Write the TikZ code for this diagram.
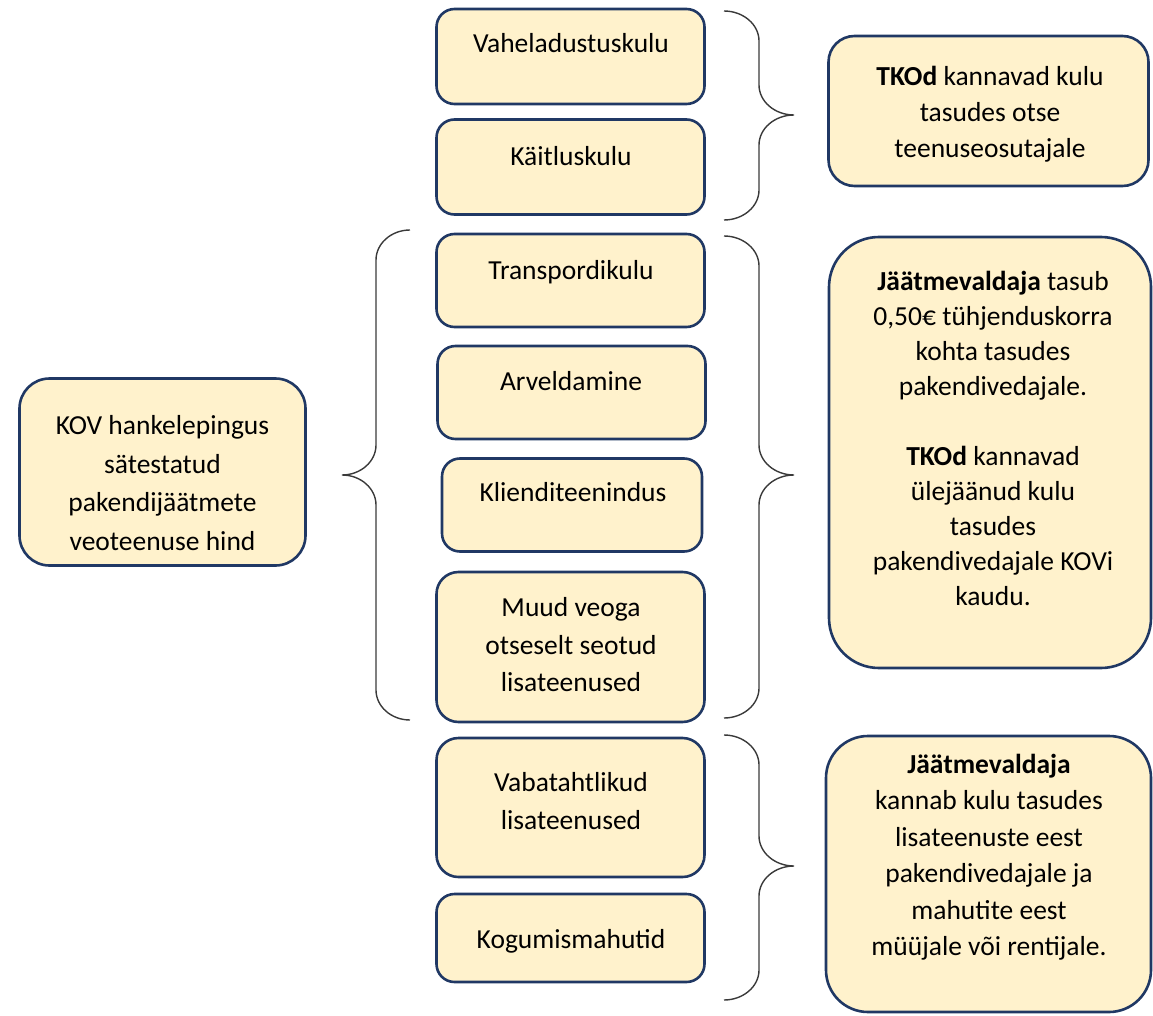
\documentclass[tikz,border=0pt]{standalone}
\usepackage{fontspec}
\setmainfont{Carlito}
\definecolor{boxfill}{HTML}{FFF2CC}
\definecolor{boxline}{HTML}{203864}
\definecolor{braceline}{HTML}{3A3A3A}
\newcommand{\mybrace}[5]{% #1 x of ends, #2 signed half width, #3 top y, #4 tip y, #5 bottom y
  \draw[brc] (#1,#3) .. controls ({#1+0.55*(#2)},#3) and ({#1+(#2)},{#3+13.5}) .. ({#1+(#2)},{#3+30})
    -- ({#1+(#2)},{#4-30}) .. controls ({#1+(#2)},{#4-13.5}) and ({#1+1.45*(#2)},#4) .. ({#1+2*(#2)},#4)
    .. controls ({#1+1.45*(#2)},#4) and ({#1+(#2)},{#4+13.5}) .. ({#1+(#2)},{#4+30})
    -- ({#1+(#2)},{#5-30}) .. controls ({#1+(#2)},{#5-13.5}) and ({#1+0.55*(#2)},#5) .. (#1,#5);}
\begin{document}
\begin{tikzpicture}[x=1pt,y=-1pt,
  box/.style={draw=boxline, line width=2.6pt, fill=boxfill, rounded corners=#1, inner sep=0pt},
  box/.default=20pt,
  txt/.style={align=center, font=\fontsize{27.5pt}{36pt}\selectfont, text=black, inner sep=0pt},
  brc/.style={draw=braceline, line width=1.4pt}]
\useasboundingbox (0,0) rectangle (1153,1016);

% middle column boxes
\node[box=18pt, minimum width=268pt, minimum height=95pt] (vah) at (570.5,56.5) {};
\node[box=18pt, minimum width=268pt, minimum height=95pt] (kai) at (570.5,167) {};
\node[box=18pt, minimum width=268pt, minimum height=93pt] (tra) at (570.5,280.5) {};
\node[box=18pt, minimum width=268pt, minimum height=93pt] (arv) at (571.5,392.5) {};
\node[box=18pt, minimum width=260pt, minimum height=93pt] (kli) at (572,505) {};
\node[box=22pt, minimum width=268pt, minimum height=150pt] (muu) at (570.5,647) {};
\node[box=22pt, minimum width=268pt, minimum height=139pt] (vab) at (570.5,807.5) {};
\node[box=18pt, minimum width=268pt, minimum height=88pt] (kog) at (570.5,938) {};

\node[txt] (vaht) at (571,43) {Vaheladustuskulu};
\node[txt] (kait) at (571,156) {Käitluskulu};
\node[txt] (trat) at (571,272) {Transpordikulu};
\node[txt] (arvt) at (571,381) {Arveldamine};
\node[txt] (klit) at (573,492) {Klienditeenindus};
\node[txt, font=\fontsize{27.5pt}{37.5pt}\selectfont] (muut) at (571,645) {Muud veoga\\otseselt seotud\\lisateenused};
\node[txt, font=\fontsize{27.5pt}{37.5pt}\selectfont] (vabt) at (571,801) {Vabatahtlikud\\lisateenused};
\node[txt] (kogt) at (571,941) {Kogumismahutid};

% left box
\node[box=30pt, minimum width=286pt, minimum height=187pt] (kov) at (162.5,472) {};
\node[txt, font=\fontsize{27.5pt}{38.5pt}\selectfont] (kovt) at (162.5,483) {KOV hankelepingus\\sätestatud\\pakendijäätmete\\veoteenuse hind};

% right boxes
\node[box=26pt, minimum width=320pt, minimum height=150pt] (r1) at (988.5,111) {};
\node[txt] (r1t) at (990,114) {\textbf{TKOd} kannavad kulu\\tasudes otse\\teenuseosutajale};

\node[box=50pt, minimum width=322pt, minimum height=431pt] (r2) at (990,452.5) {};
\node[txt, font=\fontsize{27.5pt}{35pt}\selectfont] (r2t) at (993,438) {\textbf{Jäätmevaldaja} tasub\\0,50€ tühjenduskorra\\kohta tasudes\\pakendivedajale.\\[35pt]\textbf{TKOd} kannavad\\ülejäänud kulu\\tasudes\\pakendivedajale KOVi\\kaudu.};

\node[box=42pt, minimum width=325pt, minimum height=276pt] (r3) at (988.5,874) {};
\node[txt, font=\fontsize{27.5pt}{36.5pt}\selectfont] (r3t) at (989,857) {\textbf{Jäätmevaldaja}\\kannab kulu tasudes\\lisateenuste eest\\pakendivedajale ja\\mahutite eest\\müüjale või rentijale.};

% braces
\mybrace{724}{35}{11}{115}{220}
\mybrace{410}{-34}{230}{475}{720}
\mybrace{724}{35}{236}{475}{718}
\mybrace{724}{35}{735}{866}{1000}
\end{tikzpicture}
\end{document}
